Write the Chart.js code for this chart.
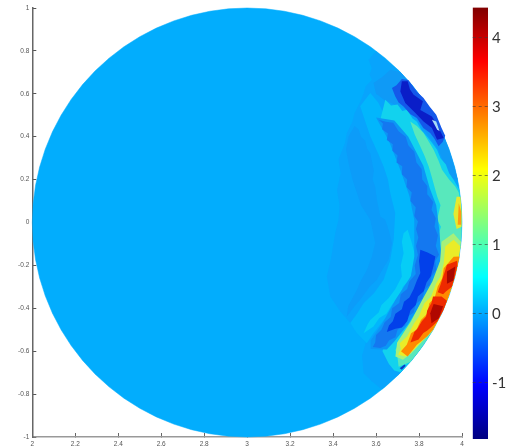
<!DOCTYPE html>
<html>
<head>
<meta charset="utf-8">
<style>
html,body{margin:0;padding:0;background:#fff;width:513px;height:448px;overflow:hidden}
canvas{position:absolute}
#plot{left:0;top:0;filter:blur(0.7px)}
#bar{left:463px;top:0;filter:blur(0.45px)}
</style>
<script src="https://cdn.jsdelivr.net/npm/chart.js@4"></script>
</head>
<body>
<div id="wrap1"><canvas id="plot" width="513" height="448"></canvas></div>
<div id="wrap2"><canvas id="bar" width="50" height="448"></canvas></div>
<script>
const xTicks=[2,2.2,2.4,2.6,2.8,3,3.2,3.4,3.6,3.8,4];
const yTicks=[1,0.8,0.6,0.4,0.2,0,-0.2,-0.4,-0.6,-0.8,-1];
const barTicks=[4,3,2,1,0,-1];
const barRange=[-1.816,4.44];
const jetStops=[[-1.816,'#000080'],[-1.034,'#0000ff'],[0.531,'#00ffff'],[2.095,'#ffff00'],[3.66,'#ff0000'],[4.44,'#800000']];

const disk=[[4,0],[3.9962,.0872],[3.9848,.1736],[3.9659,.2588],[3.9397,.342],[3.9063,.4226],[3.866,.5],[3.8192,.5736],[3.766,.6428],[3.7071,.7071],[3.6428,.766],[3.5736,.8192],[3.5,.866],[3.4226,.9063],[3.342,.9397],[3.2588,.9659],[3.1736,.9848],[3.0872,.9962],[3,1],[2.9128,.9962],[2.8264,.9848],[2.7412,.9659],[2.658,.9397],[2.5774,.9063],[2.5,.866],[2.4264,.8192],[2.3572,.766],[2.2929,.7071],[2.234,.6428],[2.1808,.5736],[2.134,.5],[2.0937,.4226],[2.0603,.342],[2.0341,.2588],[2.0152,.1736],[2.0038,.0872],[2,0],[2.0038,-.0872],[2.0152,-.1736],[2.0341,-.2588],[2.0603,-.342],[2.0937,-.4226],[2.134,-.5],[2.1808,-.5736],[2.234,-.6428],[2.2929,-.7071],[2.3572,-.766],[2.4264,-.8192],[2.5,-.866],[2.5774,-.9063],[2.658,-.9397],[2.7412,-.9659],[2.8264,-.9848],[2.9128,-.9962],[3,-1],[3.0872,-.9962],[3.1736,-.9848],[3.2588,-.9659],[3.342,-.9397],[3.4226,-.9063],[3.5,-.866],[3.5736,-.8192],[3.6428,-.766],[3.7071,-.7071],[3.766,-.6428],[3.8192,-.5736],[3.866,-.5],[3.9063,-.4226],[3.9397,-.342],[3.9659,-.2588],[3.9848,-.1736],[3.9962,-.0872],[4,0]];

const outerZone=[[3.6,.798],[3.565,.759],[3.58,.72],[3.57,.69],[3.581,.666],[3.552,.635],[3.542,.603],[3.525,.56],[3.5,.51],[3.49,.47],[3.464,.417],[3.455,.37],[3.425,.292],[3.435,.23],[3.418,.152],[3.43,.08],[3.425,.013],[3.41,-.05],[3.402,-.096],[3.39,-.17],[3.371,-.252],[3.387,-.345],[3.43,-.41],[3.48,-.469],[3.53,-.5],[3.557,-.547],[3.535,-.62],[3.542,-.703],[3.58,-.74],[3.627,-.778],[3.714,-.7],[3.8,-.6],[3.9,-.43],[3.98,-.2],[3.995,0],[3.98,.2],[3.917,.4],[3.835,.55],[3.714,.7]];
const faintRing=[[3.472,.401],[3.5,.45],[3.519,.433],[3.53,.4],[3.55,.38],[3.558,.345],[3.573,.323],[3.59,.24],[3.584,.2],[3.596,.168],[3.605,.1],[3.62,.028],[3.643,.013],[3.66,-.04],[3.674,-.096],[3.658,-.174],[3.635,-.21],[3.604,-.267],[3.57,-.3],[3.526,-.36],[3.5,-.39],[3.464,-.438],[3.47,-.39],[3.511,-.314],[3.525,-.28],[3.557,-.221],[3.58,-.16],[3.596,-.096],[3.573,.013],[3.53,.08],[3.511,.137],[3.49,.2],[3.472,.277],[3.46,.34]];
const midBand=[[3.573,.604],[3.61,.56],[3.635,.51],[3.665,.47],[3.69,.42],[3.712,.385],[3.728,.339],[3.75,.26],[3.775,.183],[3.795,.1],[3.806,.012],[3.814,-.05],[3.814,-.174],[3.798,-.25],[3.775,-.298],[3.73,-.35],[3.682,-.407],[3.64,-.45],[3.588,-.516],[3.557,-.563],[3.511,-.516],[3.48,-.469],[3.515,-.42],[3.542,-.376],[3.59,-.33],[3.635,-.267],[3.665,-.18],[3.682,-.081],[3.689,.044],[3.666,.137],[3.655,.2],[3.635,.261],[3.61,.32],[3.573,.402],[3.55,.47],[3.526,.542]];
const brightBand=[[3.747,-.034],[3.765,-.09],[3.783,-.158],[3.772,-.215],[3.756,-.267],[3.725,-.3],[3.712,-.34],[3.674,-.384],[3.648,-.425],[3.615,-.445],[3.588,-.485],[3.542,-.516],[3.56,-.475],[3.573,-.454],[3.612,-.42],[3.625,-.385],[3.658,-.353],[3.69,-.31],[3.72,-.252],[3.715,-.2],[3.728,-.143],[3.72,-.09],[3.728,-.05]];
const topStrip=[[3.588,.65],[3.63,.68],[3.666,.712],[3.714,.7],[3.76,.65],[3.8,.6],[3.835,.55],[3.866,.5],[3.893,.45],[3.917,.4],[3.937,.35],[3.954,.3],[3.968,.25],[3.98,.2],[3.94,.2],[3.915,.28],[3.89,.34],[3.84,.41],[3.76,.52],[3.64,.57],[3.6,.6]];
const cyanBand=[[3.643,.572],[3.67,.545],[3.7,.55],[3.722,.52],[3.744,.526],[3.77,.485],[3.79,.47],[3.812,.43],[3.837,.401],[3.862,.37],[3.884,.339],[3.9,.3],[3.925,.27],[3.94,.23],[3.961,.199],[3.989,.15],[3.999,.05],[3.998,0],[3.997,-.05],[3.994,-.1],[3.988,-.15],[3.979,-.2],[3.967,-.25],[3.953,-.3],[3.936,-.35],[3.916,-.4],[3.892,-.45],[3.865,-.5],[3.834,-.55],[3.799,-.6],[3.759,-.65],[3.713,-.698],[3.685,-.69],[3.66,-.66],[3.645,-.63],[3.63,-.6],[3.65,-.52],[3.75,-.36],[3.82,-.2],[3.82,0],[3.77,.2],[3.7,.36],[3.62,.48]];
const greenBand=[[3.759,.471],[3.79,.45],[3.821,.417],[3.85,.37],[3.868,.339],[3.89,.29],[3.907,.246],[3.94,.2],[3.969,.168],[3.985,.14],[3.997,.05],[3.998,0],[3.997,-.05],[3.994,-.1],[3.988,-.15],[3.979,-.2],[3.967,-.25],[3.953,-.3],[3.936,-.35],[3.916,-.4],[3.892,-.45],[3.865,-.5],[3.834,-.55],[3.799,-.6],[3.759,-.65],[3.705,-.672],[3.7,-.63],[3.69,-.594],[3.71,-.56],[3.736,-.516],[3.77,-.47],[3.78,-.43],[3.806,-.392],[3.835,-.36],[3.85,-.32],[3.876,-.283],[3.9,-.22],[3.907,-.158],[3.89,-.06],[3.902,-.02],[3.884,.013],[3.9,.08],[3.885,.12],[3.876,.152],[3.86,.21],[3.845,.261],[3.826,.31],[3.806,.354],[3.78,.41]];
const ringHalo=[[3.60,.49],[3.66,.38],[3.715,.24],[3.755,.125],[3.778,.012],[3.778,-.158],[3.762,-.25],[3.69,-.36],[3.63,-.47],[3.575,-.55],[3.575,-.59],[3.65,-.592],[3.685,-.555],[3.748,-.475],[3.818,-.365],[3.88,-.255],[3.903,-.158],[3.896,-.05],[3.888,.015],[3.88,.08],[3.85,.16],[3.82,.265],[3.75,.4],[3.685,.475]];
const ringUpper=[[3.612,.479],[3.632,.462],[3.628,.435],[3.655,.415],[3.65,.385],[3.678,.365],[3.676,.335],[3.70,.312],[3.695,.28],[3.722,.262],[3.72,.225],[3.745,.2],[3.742,.165],[3.766,.14],[3.76,.1],[3.785,.07],[3.778,.03],[3.795,.005],[3.786,-.03],[3.797,-.07],[3.786,-.11],[3.795,-.15],[3.78,-.2],[3.785,-.24],[3.755,-.275],[3.745,-.31],[3.715,-.335],[3.708,-.375],[3.675,-.4],[3.668,-.44],[3.64,-.465],[3.625,-.5],[3.6,-.525],[3.596,-.56],[3.585,-.58],[3.62,-.585],[3.645,-.575],[3.66,-.55],[3.69,-.535],[3.7,-.5],[3.735,-.48],[3.745,-.44],[3.775,-.42],[3.785,-.38],[3.815,-.355],[3.825,-.315],[3.85,-.29],[3.858,-.25],[3.88,-.22],[3.875,-.18],[3.893,-.15],[3.878,-.11],[3.888,-.06],[3.872,-.02],[3.878,.02],[3.858,.06],[3.866,.095],[3.84,.13],[3.838,.17],[3.815,.2],[3.812,.25],[3.788,.28],[3.778,.33],[3.75,.36],[3.738,.4],[3.705,.425],[3.68,.465],[3.645,.47]];
const ringDark=[[3.806,-.127],[3.84,-.14],[3.876,-.158],[3.868,-.2],[3.855,-.25],[3.835,-.28],[3.822,-.32],[3.795,-.345],[3.785,-.385],[3.76,-.41],[3.745,-.46],[3.72,-.49],[3.69,-.495],[3.65,-.51],[3.66,-.48],[3.678,-.46],[3.69,-.425],[3.72,-.405],[3.73,-.37],[3.755,-.35],[3.775,-.31],[3.79,-.27],[3.806,-.236],[3.8,-.18]];
const topHalo=[[3.674,.627],[3.695,.64],[3.72,.669],[3.75,.664],[3.79,.61],[3.821,.58],[3.85,.54],[3.88,.502],[3.905,.44],[3.922,.404],[3.91,.375],[3.891,.355],[3.872,.39],[3.852,.417],[3.82,.44],[3.79,.487],[3.76,.505],[3.728,.541],[3.705,.56],[3.689,.588]];
const topDark=[[3.72,.658],[3.747,.658],[3.758,.62],[3.775,.595],[3.818,.565],[3.806,.525],[3.86,.494],[3.884,.456],[3.915,.394],[3.884,.386],[3.86,.44],[3.821,.471],[3.783,.51],[3.736,.557],[3.713,.611]];
const topGlint=[[3.86,.479],[3.88,.471],[3.896,.425],[3.884,.433]];
const edgeSpot=[[3.71,-.68],[3.732,-.662],[3.738,-.668],[3.72,-.687]];
const yellowTop=[[3.975,.12],[3.993,.12],[3.998,.05],[3.998,-.02],[3.975,-.03],[3.96,.04]];
const orangeTop=[[3.985,.09],[3.996,.05],[3.996,-.01],[3.98,-.01]];
const limeBand=[[3.905,-.09],[3.96,-.05],[3.995,-.09],[3.979,-.2],[3.967,-.25],[3.953,-.3],[3.936,-.35],[3.916,-.4],[3.892,-.45],[3.86,-.51],[3.81,-.56],[3.765,-.61],[3.725,-.64],[3.69,-.625],[3.698,-.56],[3.762,-.462],[3.81,-.37],[3.862,-.275],[3.898,-.18]];
const yellowMain=[[3.922,-.112],[3.961,-.081],[3.993,-.112],[3.979,-.2],[3.967,-.25],[3.953,-.3],[3.936,-.35],[3.916,-.4],[3.892,-.45],[3.865,-.5],[3.821,-.547],[3.775,-.594],[3.736,-.625],[3.703,-.617],[3.715,-.59],[3.71,-.563],[3.745,-.53],[3.778,-.469],[3.798,-.44],[3.825,-.376],[3.856,-.345],[3.88,-.283],[3.9,-.25],[3.915,-.19]];
const orangeMain=[[3.915,-.213],[3.961,-.16],[3.989,-.158],[3.979,-.2],[3.967,-.25],[3.953,-.3],[3.936,-.35],[3.916,-.4],[3.892,-.45],[3.865,-.5],[3.837,-.532],[3.79,-.57],[3.747,-.625],[3.716,-.6],[3.743,-.57],[3.763,-.516],[3.788,-.5],[3.809,-.454],[3.838,-.425],[3.848,-.376],[3.873,-.35],[3.887,-.298],[3.908,-.26]];
const redUpper=[[3.93,-.197],[3.977,-.178],[3.979,-.2],[3.967,-.25],[3.953,-.3],[3.925,-.322],[3.912,-.335],[3.887,-.325],[3.9,-.29],[3.91,-.259],[3.92,-.23]];
const redLower=[[3.865,-.345],[3.905,-.345],[3.93,-.365],[3.913,-.41],[3.885,-.462],[3.855,-.49],[3.837,-.505],[3.82,-.515],[3.798,-.545],[3.76,-.56],[3.778,-.51],[3.794,-.493],[3.813,-.46],[3.833,-.438],[3.838,-.41],[3.848,-.392],[3.858,-.375]];
const darkRedUpper=[[3.93,-.228],[3.969,-.205],[3.96,-.27],[3.93,-.285]];
const darkRedLower=[[3.868,-.38],[3.912,-.39],[3.892,-.446],[3.858,-.47],[3.852,-.423]];

const layers=[
 [disk,'#02adfd'],[outerZone,'#08a4fc'],[faintRing,'#0c9cf9'],[midBand,'#02b6fc'],[brightBand,'#06cdf6'],
 [topStrip,'#0f9af6'],[cyanBand,'#12d2ee'],[greenBand,'#58e8bc'],[ringHalo,'#0c96f6'],[ringUpper,'#1478f0'],[ringDark,'#0240ea'],
 [topHalo,'#1458ea'],[topDark,'#0a1ec8'],[topGlint,'#a8dcf8'],[edgeSpot,'#0a3cc8'],
 [yellowTop,'#e4ea30'],[orangeTop,'#ff9a10'],[limeBand,'#a6f07a'],[yellowMain,'#eaec28'],[orangeMain,'#ff8a00'],
 [redUpper,'#ee2a00'],[redLower,'#ee2a00'],[darkRedUpper,'#a80800'],[darkRedLower,'#b00800']
];

const datasets=layers.map(function(l,i){
 return {data:l[0].map(function(p){return {x:p[0],y:p[1]};}),showLine:true,fill:'shape',
  backgroundColor:l[1],borderColor:l[1],borderWidth:i===0?0.5:0,pointRadius:0,tension:0,order:layers.length-i,clip:false};
});

const tickFont={family:'"Liberation Sans"',size:6.5};
const plainLabel=function(v){return String(v);};
new Chart(document.getElementById('plot'),{
 type:'scatter',
 data:{datasets:datasets},
 options:{responsive:false,animation:false,events:[],
  layout:{padding:{left:0,right:51,top:8,bottom:0}},
  plugins:{legend:{display:false},tooltip:{enabled:false}},
  scales:{
   x:{type:'linear',min:2,max:4,
    afterBuildTicks:function(a){a.ticks=xTicks.map(function(v){return {value:v};});},
    afterFit:function(a){a.height=11;a.paddingLeft=0;a.paddingRight=0;},
    grid:{drawOnChartArea:false,tickLength:-4,color:'#666',tickWidth:1},
    border:{color:'#999',width:1.5},
    ticks:{font:tickFont,color:'#555',padding:7,maxRotation:0,autoSkip:false,callback:plainLabel}},
   y:{type:'linear',min:-1,max:1,
    afterBuildTicks:function(a){a.ticks=yTicks.map(function(v){return {value:v};});},
    afterFit:function(a){a.width=32.3;a.paddingTop=0;a.paddingBottom=0;},
    grid:{drawOnChartArea:false,tickLength:-4,color:'#555',tickWidth:1},
    border:{color:'#666',width:1.5},
    ticks:{font:tickFont,color:'#555',padding:7,autoSkip:false,callback:plainLabel}}
  }
 }
});

new Chart(document.getElementById('bar'),{
 type:'bar',
 data:{labels:[''],datasets:[{data:[barRange],barPercentage:1,categoryPercentage:1,
  borderWidth:0,
  backgroundColor:function(c){
   const ch=c.chart; if(!ch.chartArea) return '#000';
   const sc=ch.scales.y;
   const g=ch.ctx.createLinearGradient(0,sc.getPixelForValue(barRange[0]),0,sc.getPixelForValue(barRange[1]));
   jetStops.forEach(function(s){g.addColorStop((s[0]-barRange[0])/(barRange[1]-barRange[0]),s[1]);});
   return g;
  }}]},
 options:{responsive:false,animation:false,events:[],
  layout:{padding:{left:9.7,right:0,top:7.5,bottom:9}},
  plugins:{legend:{display:false},tooltip:{enabled:false}},
  scales:{
   x:{display:false},
   y:{position:'right',min:barRange[0],max:barRange[1],
    afterBuildTicks:function(a){a.ticks=barTicks.map(function(v){return {value:v};});},
    afterFit:function(a){a.width=25;a.paddingTop=0;a.paddingBottom=0;},
    grid:{z:1,color:'rgba(60,60,60,0.6)',drawTicks:false},
    border:{display:false,dash:[3,3]},
    ticks:{font:{family:'Lato',size:15},color:'#333',padding:4,autoSkip:false,callback:plainLabel}}
  }
 }
});
</script>
</body>
</html>
